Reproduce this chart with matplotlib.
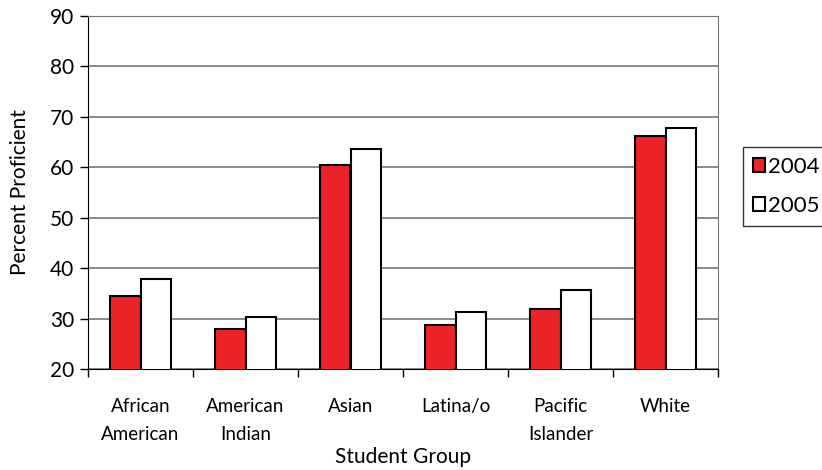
import matplotlib
matplotlib.use('Agg')
from matplotlib import pyplot as plt
import numpy as np

groups = ['African\nAmerican', 'American\nIndian', 'Asian', 'Latina/o', 'Pacific\nIslander', 'White']
vals_2004 = [34.5, 28.0, 60.5, 28.7, 31.8, 66.3]
vals_2005 = [37.9, 30.3, 63.6, 31.4, 35.7, 67.8]
yticks = [20, 30, 40, 50, 60, 70, 80, 90]

plt.rcParams['font.family'] = ['Lato', 'DejaVu Sans']

fig = plt.figure(figsize=(8.22, 4.70), dpi=100)
ax = fig.add_axes([88 / 822, 101 / 470, 630 / 822, 353 / 470])

x = np.arange(len(groups))
w = 0.29
ax.bar(x - w / 2, vals_2004, w, color='#ee2327', edgecolor='black', linewidth=1.5, label='2004', zorder=3)
ax.bar(x + w / 2, vals_2005, w, color='white', edgecolor='black', linewidth=1.5, label='2005', zorder=3)

ax.set_ylim(20, 90)
ax.set_xlim(-0.5, len(groups) - 0.5)
ax.set_yticks(yticks)
ax.yaxis.grid(True, color='#777777', linewidth=1.2, zorder=0)

ax.set_xticks(np.arange(len(groups) + 1) - 0.5)
ax.set_xticklabels([])
ax.set_xticks(x, minor=True)
ax.set_xticklabels(groups, minor=True, fontsize=13.5, linespacing=1.75)
ax.tick_params(axis='x', which='minor', length=0, pad=21)
ax.tick_params(axis='x', which='major', length=6, width=1, direction='out')
ax.tick_params(axis='y', length=6, width=1, labelsize=15, pad=4)

ax.spines['top'].set_color('#777777')
ax.spines['right'].set_color('#777777')
ax.spines['left'].set_color('black')
ax.spines['bottom'].set_color('black')

ax.set_xlabel('Student Group', fontsize=15, labelpad=3)
ax.set_ylabel('Percent Proficient', fontsize=15, labelpad=14)

leg = fig.legend(loc='upper left', bbox_to_anchor=(743 / 822, 1 - 147 / 470), borderaxespad=0,
                 fontsize=16, frameon=True, fancybox=False, edgecolor='black',
                 handlelength=0.55, handleheight=0.55, handletextpad=0.12,
                 labelspacing=0.85, borderpad=0.45)
leg.get_frame().set_linewidth(1)

fig.savefig('out.png', dpi=100)
